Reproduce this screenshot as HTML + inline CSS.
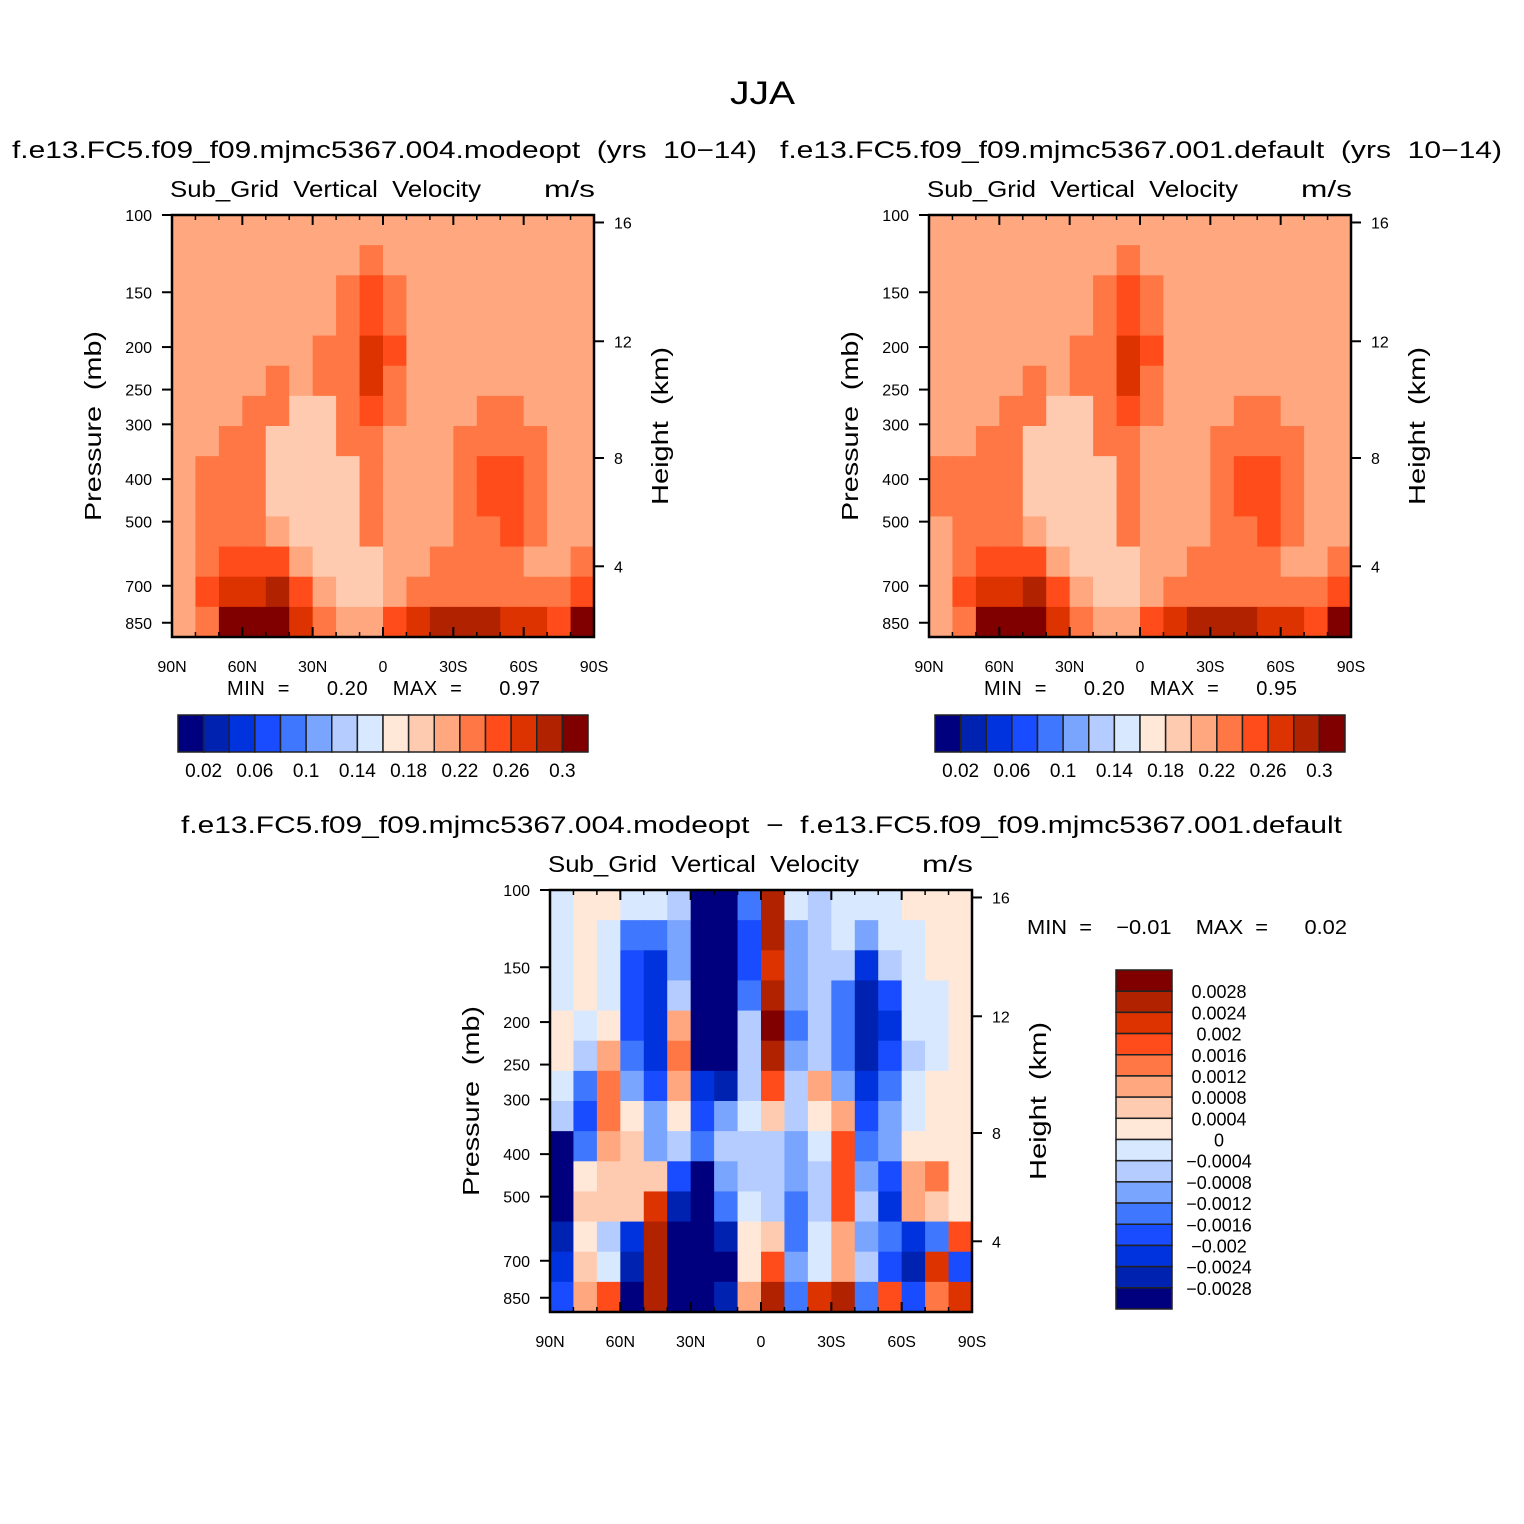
<!DOCTYPE html>
<html><head><meta charset="utf-8"><style>
html,body{margin:0;padding:0;background:#fff}
svg{display:block;font-family:"Liberation Sans",sans-serif}
text{white-space:pre}
</style></head><body>
<svg id="chart" width="1524" height="1524" viewBox="0 0 1524 1524">
<rect width="1524" height="1524" fill="#fff"/>
<text x="730" y="104" font-size="32" textLength="65" lengthAdjust="spacingAndGlyphs">JJA</text>
</svg>
<script>
// ---- data ----
const palette=["#00007f","#0022b0","#0033dd","#1a4cff","#3f77ff","#7aa5ff","#b4ccff","#d8e8ff","#ffe8d8","#ffcbb0","#ffa880","#ff7744","#ff4c1a","#dd3300","#b02200","#800000"];
const topLevels=[0.02,0.04,0.06,0.08,0.1,0.12,0.14,0.16,0.18,0.2,0.22,0.24,0.26,0.28,0.3];
const topLabels=["0.02","0.06","0.1","0.14","0.18","0.22","0.26","0.3"];
const diffLevels=[-0.0028,-0.0024,-0.002,-0.0016,-0.0012,-0.0008,-0.0004,0,0.0004,0.0008,0.0012,0.0016,0.002,0.0024,0.0028];
const diffLabels=["-0.0028","-0.0024","-0.002","-0.0016","-0.0012","-0.0008","-0.0004","0","0.0004","0.0008","0.0012","0.0016","0.002","0.0024","0.0028"];
const latLabels=["90N","60N","30N","0","30S","60S","90S"];
const latTicks=[90,60,30,0,-30,-60,-90];
const presTicks=[100,150,200,250,300,400,500,700,850];
const heightTicks=[16,12,8,4];
const heightPres=[104,194,358,632];
// model A values (x0.01 m/s), 14 rows top->bottom, 18 columns 90N->90S
const modeoptVals=[
[21,21,21,21,21,21,21,21,21,21,21,21,21,21,21,21,21,21],
[21,21,21,21,21,21,21,21,23,21,21,21,21,21,21,21,21,21],
[21,21,21,21,21,21,21,23,25,23,21,21,21,21,21,21,21,21],
[21,21,21,21,21,21,21,23,25,23,21,21,21,21,21,21,21,21],
[21,21,21,21,21,21,23,23,27,25,21,21,21,21,21,21,21,21],
[21,21,21,21,23,21,23,23,27,23,21,21,21,21,21,21,21,21],
[21,21,21,23,23,19,19,23,25,23,21,21,21,23,23,21,21,21],
[21,21,23,23,19,19,19,23,23,21,21,21,23,23,23,23,21,21],
[21,23,23,23,19,19,19,19,23,21,21,21,23,25,25,23,21,21],
[21,23,23,23,19,19,19,19,23,21,21,21,23,25,25,23,21,21],
[21,23,23,23,21,19,19,19,23,21,21,21,23,23,25,23,21,21],
[21,23,25,25,25,21,19,19,19,21,21,23,23,23,23,21,21,23],
[21,25,27,27,29,25,21,19,19,21,23,23,23,23,23,23,23,25],
[21,23,31,31,31,27,23,21,21,25,27,29,29,29,27,27,25,31]];
const defaultVals=[
[21,21,21,21,21,21,21,21,21,21,21,21,21,21,21,21,21,21],
[21,21,21,21,21,21,21,21,23,21,21,21,21,21,21,21,21,21],
[21,21,21,21,21,21,21,23,25,23,21,21,21,21,21,21,21,21],
[21,21,21,21,21,21,21,23,25,23,21,21,21,21,21,21,21,21],
[21,21,21,21,21,21,23,23,27,25,21,21,21,21,21,21,21,21],
[21,21,21,21,23,21,23,23,27,23,21,21,21,21,21,21,21,21],
[21,21,21,23,23,19,19,23,25,23,21,21,21,23,23,21,21,21],
[21,21,23,23,19,19,19,23,23,21,21,21,23,23,23,23,21,21],
[23,23,23,23,19,19,19,19,23,21,21,21,23,25,25,23,21,21],
[23,23,23,23,19,19,19,19,23,21,21,21,23,25,25,23,21,21],
[21,23,23,23,21,19,19,19,23,21,21,21,23,23,25,23,21,21],
[21,23,25,25,25,21,19,19,19,21,21,23,23,23,23,21,21,23],
[21,25,27,27,29,25,21,19,19,21,23,23,23,23,23,23,23,25],
[21,23,31,31,31,27,23,21,21,25,27,29,29,29,27,27,25,31]];
// difference values (x1e-4 m/s)
const diffVals=[
[-2,2,2,-2,-2,-6,-30,-30,-14,26,-2,-6,-2,-2,-2,2,2,2],
[-2,2,-2,-14,-14,-10,-30,-30,-18,26,-10,-6,-2,-10,-2,-2,2,2],
[-2,2,-2,-18,-22,-10,-30,-30,-18,22,-10,-6,-6,-22,-6,-2,2,2],
[-2,2,-2,-18,-22,-6,-30,-30,-14,26,-10,-6,-14,-26,-18,-2,-2,2],
[2,-2,2,-18,-22,10,-30,-30,-6,30,-14,-6,-14,-26,-22,-2,-2,2],
[2,-6,10,-14,-22,14,-30,-30,-6,26,-10,-6,-14,-26,-18,-6,-2,2],
[-2,-14,14,-10,-18,10,-22,-26,-6,18,-6,10,-10,-22,-14,-2,2,2],
[-6,-18,14,2,-10,2,-18,-10,-2,6,-6,2,10,-18,-10,-2,2,2],
[-30,-14,10,6,-10,-6,-14,-6,-6,-6,-10,-2,18,-14,-10,2,2,2],
[-30,2,6,6,6,-18,-30,-10,-6,-6,-10,-6,18,-10,-18,10,14,2],
[-30,6,6,6,22,-26,-30,-14,-2,-6,-14,-6,18,-6,-22,10,6,2],
[-26,2,-6,-22,26,-30,-30,-26,2,6,-14,-2,10,-10,-14,-22,-14,18],
[-22,6,-2,-26,26,-30,-30,-30,2,18,-10,-2,10,-6,-18,-26,22,-18],
[-18,10,18,-30,26,-30,-30,-26,10,26,-14,22,26,-14,18,-18,14,22]];
// ---- drawing ----
const NS="http://www.w3.org/2000/svg";
const svg=document.getElementById('chart');
function mk(tag,attrs,parent,txt){const e=document.createElementNS(NS,tag);for(const k in attrs)e.setAttribute(k,attrs[k]);if(txt!==undefined)e.textContent=txt;(parent||svg).appendChild(e);return e;}
function classOf(v,levels){let k=0;while(k<levels.length&&v>levels[k])k++;return k;}
const PW=422,PH=422,PBOT=916;
function panel(px,py,vals,scale,levels,minmax,name){
  const g=mk('g',{},svg);
  
  
  const xS=lat=>px+(90-lat)/180*PW;
  const yS=p=>py+Math.log10(p/100)/Math.log10(PBOT/100)*PH;
  const rows=vals.length,cols=vals[0].length;
  const cw=PW/cols,ch=PH/rows;
  for(let r=0;r<rows;r++)for(let c=0;c<cols;c++){
    const lat=90-(c+0.5)*180/cols;
    const x=xS(lat)-cw/2, y=py+r*ch;
    const cell=mk('rect',{x:x.toFixed(2),y:y.toFixed(2),width:(cw+0.6).toFixed(2),height:(ch+0.6).toFixed(2),fill:palette[classOf(vals[r][c]*scale,levels)]},g);
    
    
  }
  const frame=mk('rect',{x:px,y:py,width:PW,height:PH,fill:'none',stroke:'#000','stroke-width':2.5},g);
  
  
  latTicks.forEach((lat,i)=>{
    const x=xS(lat);
    mk('line',{x1:x,x2:x,y1:py+PH,y2:py+PH-10,stroke:'#000','stroke-width':2},g);
    mk('line',{x1:x,x2:x,y1:py,y2:py+10,stroke:'#000','stroke-width':2},g);
    const t=mk('text',{x:x,y:py+PH+35,'font-size':16,'text-anchor':'middle'},g,latLabels[i]);
    
    
  });
  for(let lat=80;lat>-90;lat-=10){if(lat%30===0)continue;const x=xS(lat);
    mk('line',{x1:x,x2:x,y1:py+PH,y2:py+PH-5,stroke:'#000','stroke-width':1.5},g);
    mk('line',{x1:x,x2:x,y1:py,y2:py+5,stroke:'#000','stroke-width':1.5},g);}
  presTicks.forEach(p=>{const y=yS(p);
    mk('line',{x1:px,x2:px-10,y1:y,y2:y,stroke:'#000','stroke-width':2},g);
    const t=mk('text',{x:px-20,y:y+6,'font-size':16,'text-anchor':'end'},g,String(p));
    
    });
  heightTicks.forEach((h,i)=>{const y=yS(heightPres[i]);
    mk('line',{x1:px+PW,x2:px+PW+10,y1:y,y2:y,stroke:'#000','stroke-width':2},g);
    const t=mk('text',{x:px+PW+20,y:y+6,'font-size':16},g,String(h));
    
    });
  const yt=mk('text',{x:0,y:0,'font-size':23,'text-anchor':'middle',textLength:190,lengthAdjust:'spacingAndGlyphs',transform:`translate(${px-71},${py+211}) rotate(-90)`},g,'Pressure  (mb)');
  
  
  const ht=mk('text',{x:0,y:0,'font-size':23,'text-anchor':'middle',textLength:158,lengthAdjust:'spacingAndGlyphs',transform:`translate(${px+PW+74},${py+211}) rotate(-90)`},g,'Height  (km)');
  
  
  const st=mk('text',{x:px-2,y:py-18,'font-size':23,textLength:311,lengthAdjust:'spacingAndGlyphs'},g,'Sub_Grid  Vertical  Velocity');
  
  
  const un=mk('text',{x:px+PW-50,y:py-18,'font-size':23,textLength:51,lengthAdjust:'spacingAndGlyphs'},g,'m/s');
  
  
  if(minmax){const m=mk('text',{x:px+55,y:py+PH+58,'font-size':20,textLength:313,lengthAdjust:'spacing'},g,minmax);
    
    }
}
function hbar(x0,y0,name){
  const g=mk('g',{},svg);
  
  
  const w=410/16;
  palette.forEach((c,i)=>{const r=mk('rect',{x:x0+i*w,y:y0,width:w,height:37,fill:c,stroke:'#222','stroke-width':1.5},g);
    
    });
  topLabels.forEach((l,i)=>{const t=mk('text',{x:x0+w*(1+2*i),y:y0+62,'font-size':19,'text-anchor':'middle'},g,l);
    
    });
}
function text(x,y,s,size,name,len){const t=mk('text',{x:x,y:y,'font-size':size,textLength:len,lengthAdjust:'spacingAndGlyphs'},svg,s);
  
  }
text(12,158,'f.e13.FC5.f09_f09.mjmc5367.004.modeopt  (yrs  10\u221214)',24,'left-panel-title',745);
text(780,158,'f.e13.FC5.f09_f09.mjmc5367.001.default  (yrs  10\u221214)',24,'right-panel-title',722);
text(181,833,'f.e13.FC5.f09_f09.mjmc5367.004.modeopt  \u2212  f.e13.FC5.f09_f09.mjmc5367.001.default',24,'diff-panel-title',1161);
panel(172,215,modeoptVals,0.01,topLevels,'MIN  =      0.20    MAX  =      0.97','modeopt-panel');
panel(929,215,defaultVals,0.01,topLevels,'MIN  =      0.20    MAX  =      0.95','default-panel');
panel(550,890,diffVals,0.0001,diffLevels,null,'difference-panel');
hbar(178,715,'modeopt-colorbar');
hbar(935,715,'default-colorbar');
text(1027,934,'MIN  =    \u22120.01    MAX  =      0.02',20,'diff-min-max',320);
// vertical diff colorbar
(function(){const g=mk('g',{},svg);
  
  
  const h=339/16;
  for(let i=0;i<16;i++){const r=mk('rect',{x:1116,y:970+i*h,width:56,height:h,fill:palette[15-i],stroke:'#222','stroke-width':1.5},g);
    
    }
  for(let i=0;i<15;i++){const lab=diffLabels[14-i].replace('-','\u2212');
    const t=mk('text',{x:1219,y:970+(i+1)*h+7,'font-size':18,'text-anchor':'middle'},g,lab);
    
    }
})();
</script>
</body></html>
